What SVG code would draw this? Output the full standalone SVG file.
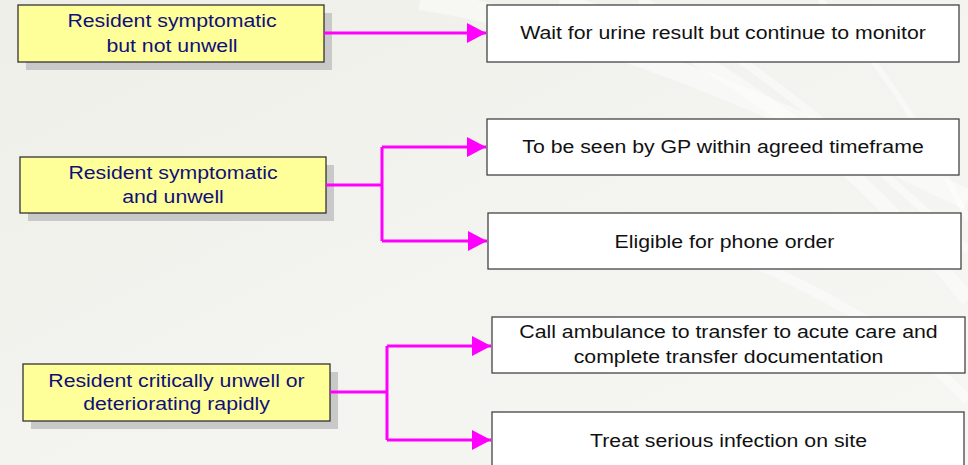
<svg xmlns="http://www.w3.org/2000/svg" width="968" height="465" viewBox="0 0 968 465">
  <defs>
    <linearGradient id="bg" x1="0" y1="0" x2="1" y2="1">
      <stop offset="0" stop-color="#efefe9"/>
      <stop offset="0.5" stop-color="#f3f3ef"/>
      <stop offset="1" stop-color="#f6f6f3"/>
    </linearGradient>
    <marker id="arr" markerUnits="userSpaceOnUse" markerWidth="20" markerHeight="22" refX="19" refY="10" orient="auto">
      <path d="M0,0 L19,10 L0,20 Z" fill="#ff00ff"/>
    </marker>
    <style>
      .ybox { fill: #ffff99; stroke: #333333; stroke-width: 1.3; }
      .shadow { fill: #c9c9c9; }
      .wbox { fill: #ffffff; stroke: #444444; stroke-width: 1.3; }
      .yt { font-family: "Liberation Sans", Arial, sans-serif; font-size: 18.5px; fill: #10107a; text-anchor: middle; }
      .wt { font-family: "Liberation Sans", Arial, sans-serif; font-size: 18.5px; fill: #111111; text-anchor: middle; }
      .conn { fill: none; stroke: #ff00ff; stroke-width: 3; }
      .swoosh { fill: none; stroke: #ffffff; stroke-opacity: 0.45; }
    </style>
  </defs>

  <rect x="0" y="0" width="968" height="465" fill="url(#bg)"/>
  <g id="background-swooshes">
    <path class="swoosh" stroke-width="14" d="M560,0 C700,40 840,140 968,300"/>
    <path class="swoosh" stroke-width="8" d="M640,0 C760,60 870,160 968,250"/>
    <path class="swoosh" stroke-width="20" d="M420,0 C620,30 820,130 968,200"/>
    <path class="swoosh" stroke-width="6" d="M820,0 C880,60 930,140 968,220"/>
    <path class="swoosh" stroke-width="10" d="M700,240 C800,280 900,330 968,400"/>
  </g>

  <g id="node-symptomatic-not-unwell">
    <rect class="shadow" x="26" y="13" width="306" height="57"/>
    <rect class="ybox" x="18" y="5" width="306" height="57"/>
    <text class="yt" transform="translate(172,0) scale(1.15,1)"><tspan x="0" y="27">Resident symptomatic</tspan><tspan x="0" y="52.5">but not unwell</tspan></text>
  </g>

  <g id="node-symptomatic-unwell">
    <rect class="shadow" x="28" y="165" width="306" height="56"/>
    <rect class="ybox" x="20" y="157" width="306" height="56"/>
    <text class="yt" transform="translate(173,0) scale(1.15,1)"><tspan x="0" y="179.3">Resident symptomatic</tspan><tspan x="0" y="203.3">and unwell</tspan></text>
  </g>

  <g id="node-critically-unwell">
    <rect class="shadow" x="31" y="372" width="307" height="57"/>
    <rect class="ybox" x="23" y="364" width="307" height="57"/>
    <text class="yt" transform="translate(176.5,0) scale(1.15,1)"><tspan x="0" y="386.7">Resident critically unwell or</tspan><tspan x="0" y="410">deteriorating rapidly</tspan></text>
  </g>

  <g id="node-wait-urine">
    <rect class="wbox" x="487" y="5" width="472" height="57"/>
    <text class="wt" transform="translate(723,0) scale(1.15,1)" x="0" y="39.3">Wait for urine result but continue to monitor</text>
  </g>

  <g id="node-seen-by-gp">
    <rect class="wbox" x="487" y="119" width="472" height="56"/>
    <text class="wt" transform="translate(723,0) scale(1.15,1)" x="0" y="153.3">To be seen by GP within agreed timeframe</text>
  </g>

  <g id="node-phone-order">
    <rect class="wbox" x="488" y="213" width="473" height="56"/>
    <text class="wt" transform="translate(724.5,0) scale(1.15,1)" x="0" y="247.7">Eligible for phone order</text>
  </g>

  <g id="node-call-ambulance">
    <rect class="wbox" x="492" y="317" width="473" height="56"/>
    <text class="wt" transform="translate(728.5,0) scale(1.15,1)"><tspan x="0" y="338.3">Call ambulance to transfer to acute care and</tspan><tspan x="0" y="363.3">complete transfer documentation</tspan></text>
  </g>

  <g id="node-treat-on-site">
    <rect class="wbox" x="492" y="412" width="472" height="60"/>
    <text class="wt" transform="translate(728.5,0) scale(1.15,1)" x="0" y="446.7">Treat serious infection on site</text>
  </g>

  <g id="connectors">
    <path class="conn" d="M324,33 H486" marker-end="url(#arr)"/>
    <path class="conn" d="M326,185 H382"/>
    <path class="conn" d="M382,147 V241"/>
    <path class="conn" d="M382,147 H486" marker-end="url(#arr)"/>
    <path class="conn" d="M382,241 H487" marker-end="url(#arr)"/>
    <path class="conn" d="M330,392 H387"/>
    <path class="conn" d="M387,346 V440"/>
    <path class="conn" d="M387,346 H491" marker-end="url(#arr)"/>
    <path class="conn" d="M387,440 H491" marker-end="url(#arr)"/>
  </g>
</svg>
